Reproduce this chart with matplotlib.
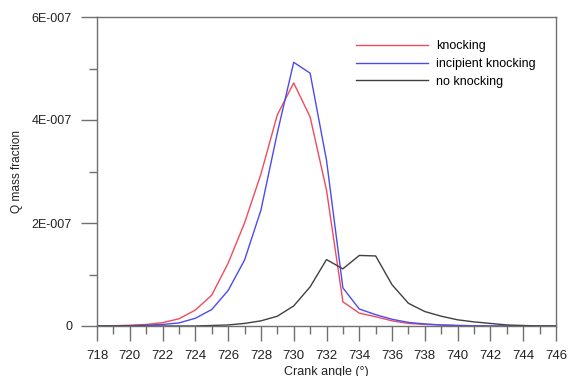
import numpy as np
import matplotlib
matplotlib.use('Agg')
import matplotlib.pyplot as plt
from matplotlib.ticker import MultipleLocator, FuncFormatter

# crank angle (deg) and Q mass fraction in units of 1E-7
angle = list(range(718, 747))
knocking = [0.0, 0.005, 0.015, 0.03, 0.065, 0.14, 0.31, 0.6, 1.22, 2.0, 2.95, 4.1,
            4.72, 4.06, 2.64, 0.47, 0.25, 0.18, 0.1, 0.05, 0.03, 0.02, 0.01, 0.005,
            0.0, 0.0, 0.0, 0.0, 0.0]
incipient = [0.0, 0.0, 0.005, 0.015, 0.03, 0.06, 0.15, 0.32, 0.69, 1.28, 2.25, 3.75,
             5.12, 4.91, 3.22, 0.74, 0.33, 0.22, 0.13, 0.07, 0.04, 0.02, 0.01, 0.005,
             0.0, 0.0, 0.0, 0.0, 0.0]
no_knock = [0.0, 0.0, 0.0, 0.0, 0.0, 0.0, 0.0, 0.01, 0.02, 0.05, 0.1, 0.19,
            0.39, 0.76, 1.29, 1.11, 1.37, 1.36, 0.8, 0.44, 0.28, 0.19, 0.12, 0.08,
            0.05, 0.02, 0.01, 0.0, 0.0]

scale = 1e-7
plt.rcParams['font.family'] = ['Liberation Sans', 'DejaVu Sans']
plt.rcParams['font.size'] = 9

fig = plt.figure(figsize=(5.74, 3.76), dpi=100)
ax = fig.add_axes([97/574, 1 - 326/376, (556 - 97)/574, (326 - 17)/376])

ax.plot(angle, np.array(knocking) * scale, color='#f04b5a', lw=1.0, label='knocking')
ax.plot(angle, np.array(incipient) * scale, color='#4b4bf0', lw=1.0, label='incipient knocking')
ax.plot(angle, np.array(no_knock) * scale, color='#404040', lw=1.0, label='no knocking')

ax.set_xlim(718, 746)
ax.set_ylim(0, 6e-7)
ax.xaxis.set_major_locator(MultipleLocator(2))
ax.xaxis.set_minor_locator(MultipleLocator(1))
ax.yaxis.set_major_locator(MultipleLocator(2e-7))
ax.yaxis.set_minor_locator(MultipleLocator(1e-7))

def yfmt(v, pos):
    if abs(v) < 1e-12:
        return '0'
    return '%dE-007' % round(v / 1e-7)

ax.yaxis.set_major_formatter(FuncFormatter(yfmt))

spine_col = '#707070'
for s in ax.spines.values():
    s.set_color(spine_col)
    s.set_linewidth(1.0)
# tick lengths in points (1 pt = 1.39 px at 100 dpi)
ax.tick_params(which='both', direction='out', width=1.0, color=spine_col, labelcolor='#222222')
ax.tick_params(axis='y', which='major', length=11.5, labelsize=9, pad=6.5)
ax.tick_params(axis='y', which='minor', length=5.8)
ax.tick_params(axis='x', which='major', length=10.8, labelsize=9.5, pad=6.5)
ax.tick_params(axis='x', which='minor', length=5.8)

ax.set_xlabel('Crank angle (°)', fontsize=9, labelpad=3, color='#222222')
ax.set_ylabel('Q mass fraction', fontsize=8.6, labelpad=6, color='#222222')

ax.legend(loc='upper left', bbox_to_anchor=(356/574, 1 - 40/376), bbox_transform=fig.transFigure,
          frameon=False, fontsize=9, handlelength=5.76, handletextpad=0.64,
          labelspacing=0.47, borderpad=0, borderaxespad=0)

fig.savefig('out.png', dpi=100)
